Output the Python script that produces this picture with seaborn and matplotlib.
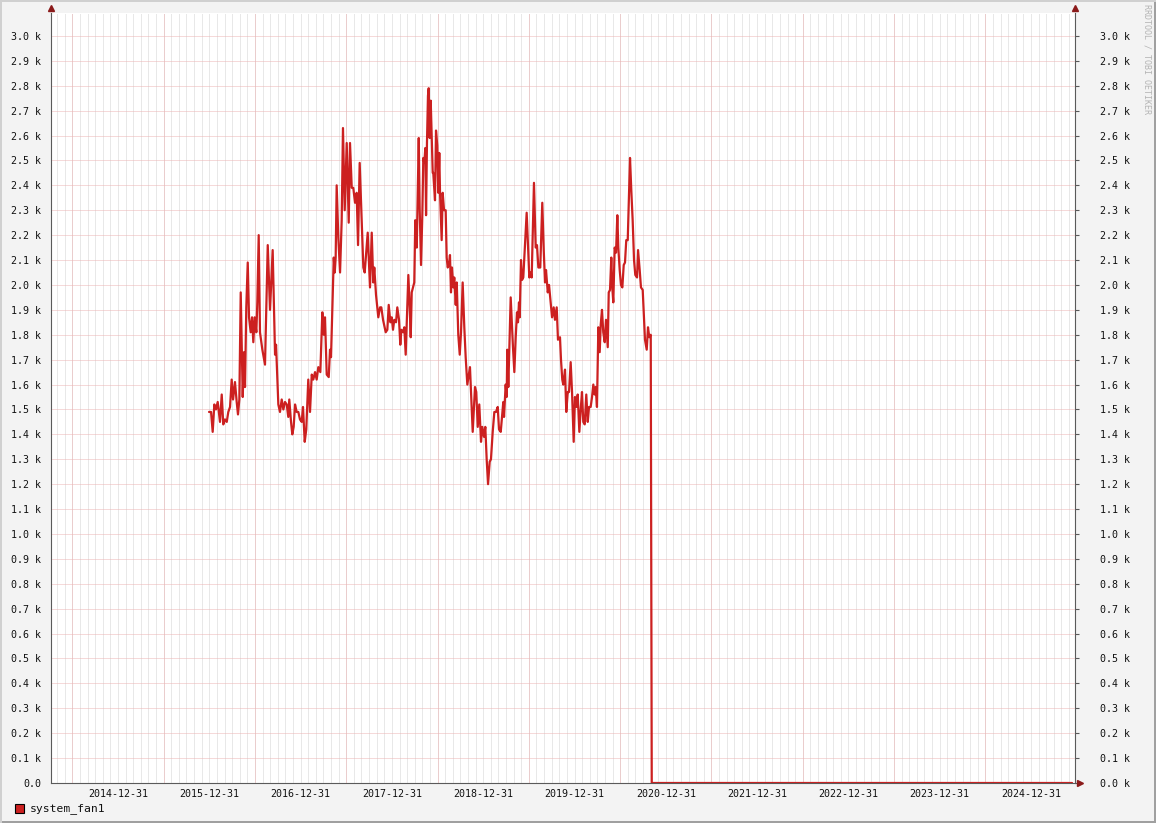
import pandas as pd
import matplotlib.pyplot as plt
import matplotlib.patches as patches
from matplotlib.ticker import FixedLocator, FuncFormatter
import seaborn as sns

# Datos (fecha en años decimales, rpm del ventilador)
anios = [
    2015.997, 2016.019, 2016.037, 2016.055, 2016.073, 2016.092, 2016.117, 2016.136, 2016.153, 2016.172,
    2016.191, 2016.208, 2016.227, 2016.245, 2016.260, 2016.281, 2016.300, 2016.314, 2016.329, 2016.344,
    2016.366, 2016.380, 2016.391, 2016.405, 2016.421, 2016.435, 2016.453, 2016.468, 2016.482, 2016.497,
    2016.515, 2016.526, 2016.541, 2016.555, 2016.581, 2016.610, 2016.640, 2016.665, 2016.694, 2016.720,
    2016.731, 2016.756, 2016.774, 2016.793, 2016.811, 2016.829, 2016.848, 2016.865, 2016.876, 2016.895,
    2016.909, 2016.924, 2016.939, 2016.957, 2016.975, 2016.993, 2017.012, 2017.026, 2017.045, 2017.062,
    2017.084, 2017.103, 2017.122, 2017.139, 2017.158, 2017.176, 2017.194, 2017.216, 2017.238, 2017.253,
    2017.267, 2017.286, 2017.308, 2017.322, 2017.333, 2017.347, 2017.363, 2017.374, 2017.384, 2017.395,
    2017.413, 2017.432, 2017.450, 2017.464, 2017.483, 2017.505, 2017.527, 2017.541, 2017.560, 2017.577,
    2017.596, 2017.614, 2017.629, 2017.647, 2017.669, 2017.687, 2017.702, 2017.720, 2017.735, 2017.760,
    2017.779, 2017.796, 2017.807, 2017.826, 2017.840, 2017.851, 2017.870, 2017.884, 2017.903, 2017.932,
    2017.950, 2017.965, 2017.983, 2017.998, 2018.012, 2018.026, 2018.045, 2018.059, 2018.078, 2018.092,
    2018.103, 2018.122, 2018.136, 2018.151, 2018.165, 2018.180, 2018.195, 2018.206, 2018.217, 2018.231,
    2018.245, 2018.256, 2018.272, 2018.294, 2018.304, 2018.319, 2018.333, 2018.344, 2018.355, 2018.366,
    2018.374, 2018.384, 2018.395, 2018.403, 2018.414, 2018.425, 2018.447, 2018.453, 2018.472, 2018.483,
    2018.497, 2018.508, 2018.519, 2018.527, 2018.545, 2018.556, 2018.571, 2018.589, 2018.600, 2018.611,
    2018.625, 2018.636, 2018.647, 2018.658, 2018.673, 2018.683, 2018.699, 2018.710, 2018.727, 2018.743,
    2018.757, 2018.775, 2018.793, 2018.808, 2018.826, 2018.855, 2018.885, 2018.910, 2018.924, 2018.940,
    2018.957, 2018.976, 2018.990, 2019.009, 2019.023, 2019.038, 2019.053, 2019.071, 2019.085, 2019.104,
    2019.122, 2019.140, 2019.159, 2019.173, 2019.192, 2019.206, 2019.220, 2019.228, 2019.246, 2019.257,
    2019.264, 2019.275, 2019.301, 2019.326, 2019.341, 2019.356, 2019.370, 2019.381, 2019.392, 2019.400,
    2019.414, 2019.425, 2019.439, 2019.455, 2019.476, 2019.487, 2019.505, 2019.520, 2019.531, 2019.556,
    2019.575, 2019.589, 2019.604, 2019.625, 2019.647, 2019.663, 2019.677, 2019.688, 2019.707, 2019.721,
    2019.739, 2019.754, 2019.772, 2019.786, 2019.805, 2019.819, 2019.841, 2019.852, 2019.866, 2019.877,
    2019.896, 2019.910, 2019.926, 2019.940, 2019.958, 2019.973, 2019.991, 2020.005, 2020.020, 2020.035,
    2020.053, 2020.068, 2020.082, 2020.096, 2020.112, 2020.129, 2020.145, 2020.159, 2020.177, 2020.192,
    2020.206, 2020.221, 2020.232, 2020.246, 2020.261, 2020.276, 2020.287, 2020.301, 2020.315, 2020.331,
    2020.345, 2020.364, 2020.375, 2020.389, 2020.403, 2020.414, 2020.425, 2020.440, 2020.455, 2020.469,
    2020.480, 2020.495, 2020.509, 2020.524, 2020.539, 2020.553, 2020.567, 2020.583, 2020.597, 2020.608,
    2020.622, 2020.637, 2020.652, 2020.666, 2020.685, 2020.696, 2020.714, 2020.728, 2020.747, 2020.758,
    2020.772, 2020.791, 2020.805, 2020.819, 2020.835, 2020.846, 2025.450,
]
rpm = [
    1490, 1490, 1410, 1520, 1500, 1530, 1450, 1560, 1440, 1460,
    1450, 1490, 1510, 1620, 1540, 1610, 1530, 1480, 1540, 1970,
    1550, 1730, 1590, 1910, 2090, 1870, 1810, 1870, 1770, 1870,
    1810, 1930, 2200, 1810, 1740, 1680, 2160, 1900, 2140, 1720,
    1760, 1520, 1490, 1540, 1500, 1530, 1520, 1470, 1540, 1450,
    1400, 1430, 1520, 1490, 1490, 1460, 1450, 1510, 1370, 1420,
    1620, 1490, 1640, 1620, 1650, 1620, 1670, 1650, 1890, 1800,
    1870, 1640, 1630, 1740, 1710, 1900, 2110, 2050, 2110, 2400,
    2190, 2050, 2260, 2630, 2300, 2570, 2250, 2570, 2390, 2390,
    2330, 2370, 2160, 2490, 2260, 2070, 2050, 2140, 2210, 1990,
    2210, 2010, 2070, 1960, 1910, 1870, 1910, 1910, 1860, 1810,
    1820, 1920, 1850, 1870, 1820, 1860, 1850, 1910, 1860, 1760,
    1820, 1810, 1830, 1720, 1880, 2040, 1910, 1790, 1970, 1990,
    2010, 2260, 2150, 2590, 2310, 2080, 2280, 2510, 2490, 2550,
    2280, 2570, 2760, 2790, 2590, 2740, 2450, 2450, 2340, 2620,
    2560, 2370, 2530, 2370, 2180, 2370, 2300, 2300, 2110, 2070,
    2080, 2120, 1970, 2070, 1990, 2030, 1920, 2010, 1800, 1720,
    1810, 2010, 1830, 1710, 1600, 1670, 1410, 1590, 1570, 1430,
    1520, 1370, 1430, 1390, 1430, 1300, 1200, 1290, 1300, 1410,
    1490, 1490, 1510, 1420, 1410, 1470, 1530, 1470, 1600, 1550,
    1740, 1590, 1950, 1750, 1650, 1790, 1890, 1850, 1930, 1870,
    2100, 2020, 2030, 2140, 2290, 2190, 2030, 2050, 2030, 2410,
    2150, 2160, 2070, 2070, 2330, 2140, 2010, 2060, 1970, 2000,
    1930, 1870, 1910, 1860, 1910, 1780, 1790, 1700, 1620, 1600,
    1660, 1490, 1570, 1570, 1690, 1570, 1370, 1550, 1510, 1560,
    1410, 1500, 1570, 1450, 1440, 1560, 1450, 1510, 1510, 1550,
    1600, 1560, 1590, 1510, 1830, 1730, 1840, 1900, 1810, 1770,
    1860, 1750, 1970, 1980, 2110, 1990, 1930, 2150, 2130, 2280,
    2150, 2060, 2000, 1990, 2080, 2090, 2180, 2180, 2370, 2510,
    2380, 2260, 2100, 2040, 2030, 2140, 2060, 1990, 1980, 1890,
    1780, 1740, 1830, 1790, 1800, 0, 0,
]

etiquetas_fechas = ['2014-12-31', '2015-12-31', '2016-12-31', '2017-12-31', '2018-12-31',
                    '2019-12-31', '2020-12-31', '2021-12-31', '2022-12-31', '2023-12-31',
                    '2024-12-31']
nombre_serie = 'system_fan1'

datos = pd.DataFrame({'anio': anios, 'rpm': rpm})


def a_decimal(fecha):
    f = pd.Timestamp(fecha)
    dias = 366 if f.is_leap_year else 365
    return f.year + f.dayofyear / dias


pos_etiquetas = [a_decimal(f) for f in etiquetas_fechas]
rejilla_mayor = [2014.5 + i for i in range(12)]
rejilla_menor = [2014.5 + i / 12 for i in range(-2, 134)]
valores_y = list(range(0, 3100, 100))

# Estilo general
sns.set_style('white')
plt.rcParams['font.family'] = ['DejaVu Sans Mono']
color_linea = '#CC2020'
color_eje = '#5A5A5A'
color_flecha = '#8B1A1A'

fig = plt.figure(figsize=(11.56, 8.23), dpi=100)
fig.patch.set_facecolor('#F3F3F3')
ax = fig.add_axes([51 / 1156, 40 / 823, 1024 / 1156, 770 / 823])
ax.set_facecolor('white')

# Rejilla menor (mensual) gris y mayor roja
ax.vlines(rejilla_menor, 0, 1, transform=ax.get_xaxis_transform(),
          colors='#D2D2D2', linewidth=0.72, linestyles=(0, (1, 1)), zorder=0)
ax.vlines(rejilla_mayor, 0, 1, transform=ax.get_xaxis_transform(),
          colors='#EDB4B4', linewidth=0.72, linestyles=(0, (1, 1)), zorder=0.5)
ax.hlines(valores_y[1:], 0, 1, transform=ax.get_yaxis_transform(),
          colors='#EDB4B4', linewidth=0.72, linestyles=(0, (1, 1)), zorder=0.5)

# Serie (debajo de los ejes, como en rrdtool)
sns.lineplot(data=datos, x='anio', y='rpm', ax=ax, color=color_linea, linewidth=1.6,
             estimator=None, sort=False, legend=False, zorder=2)

ax.set_xlim(2014.266, 2025.482)
ax.set_ylim(0, 3092)
ax.set_xlabel('')
ax.set_ylabel('')

# Eje x: marcas en la rejilla mayor, etiquetas a fin de año
ax.xaxis.set_major_locator(FixedLocator(rejilla_mayor))
ax.xaxis.set_major_formatter(FuncFormatter(lambda v, p: ''))
ax.xaxis.set_minor_locator(FixedLocator(pos_etiquetas))
ax.set_xticklabels(etiquetas_fechas, minor=True)
ax.tick_params(axis='x', which='major', length=3, width=0.8, color=color_eje, direction='out')
ax.tick_params(axis='x', which='minor', length=0, pad=4, labelsize=7.2, labelcolor='#111111')

# Eje y izquierdo
ax.yaxis.set_major_locator(FixedLocator(valores_y))
ax.yaxis.set_major_formatter(FuncFormatter(lambda v, p: '0.0' if v == 0 else f'{v / 1000:.1f} k'))
ax.tick_params(axis='y', which='major', length=3, width=0.8, color=color_eje, direction='out',
               pad=4, labelsize=7.2, labelcolor='#111111')

# Eje y derecho
der = ax.secondary_yaxis('right')
der.yaxis.set_major_locator(FixedLocator(valores_y))
der.yaxis.set_major_formatter(FuncFormatter(lambda v, p: f'{v / 1000:.1f} k'))
der.tick_params(axis='y', length=3, width=0.8, color=color_eje, direction='out',
                pad=15, labelsize=7.2, labelcolor='#111111')
der.spines['right'].set_color(color_eje)
der.spines['right'].set_linewidth(0.8)

for lado in ['left', 'bottom']:
    ax.spines[lado].set_color(color_eje)
    ax.spines[lado].set_linewidth(0.8)
    ax.spines[lado].set_zorder(4)
ax.spines['top'].set_visible(False)
ax.spines['right'].set_visible(False)

# Flechas de los ejes
ax.plot([0], [1.006], marker='^', markersize=4.5, color=color_flecha, transform=ax.transAxes, clip_on=False)
ax.plot([1], [1.006], marker='^', markersize=4.5, color=color_flecha, transform=ax.transAxes, clip_on=False)
ax.plot([1.005], [0], marker='>', markersize=4.5, color=color_flecha, transform=ax.transAxes, clip_on=False)

# Leyenda
fig.patches.append(patches.Rectangle((15 / 1156, 10 / 823), 9 / 1156, 9 / 823,
                                     transform=fig.transFigure, facecolor=color_linea,
                                     edgecolor='black', linewidth=0.8))
fig.text(30 / 1156, 14.5 / 823, nombre_serie, fontsize=8.2, va='center', ha='left', color='#111111')

# Marca de agua
fig.text(1147 / 1156, 1 - 4 / 823, 'RRDTOOL / TOBI OETIKER', rotation=270, fontsize=6,
         va='top', ha='center', color='#B4B4B4')

# Marco 3D
fig.patches.append(patches.Rectangle((0, 0), 1, 2 / 823, transform=fig.transFigure,
                                     facecolor='#A0A0A0', edgecolor='none'))
fig.patches.append(patches.Rectangle((1 - 2 / 1156, 0), 2 / 1156, 1, transform=fig.transFigure,
                                     facecolor='#A0A0A0', edgecolor='none'))
fig.patches.append(patches.Rectangle((0, 1 - 2 / 823), 1, 2 / 823, transform=fig.transFigure,
                                     facecolor='#D0D0D0', edgecolor='none'))
fig.patches.append(patches.Rectangle((0, 0), 2 / 1156, 1, transform=fig.transFigure,
                                     facecolor='#D0D0D0', edgecolor='none'))

fig.savefig('out.png', dpi=100, facecolor=fig.get_facecolor())
